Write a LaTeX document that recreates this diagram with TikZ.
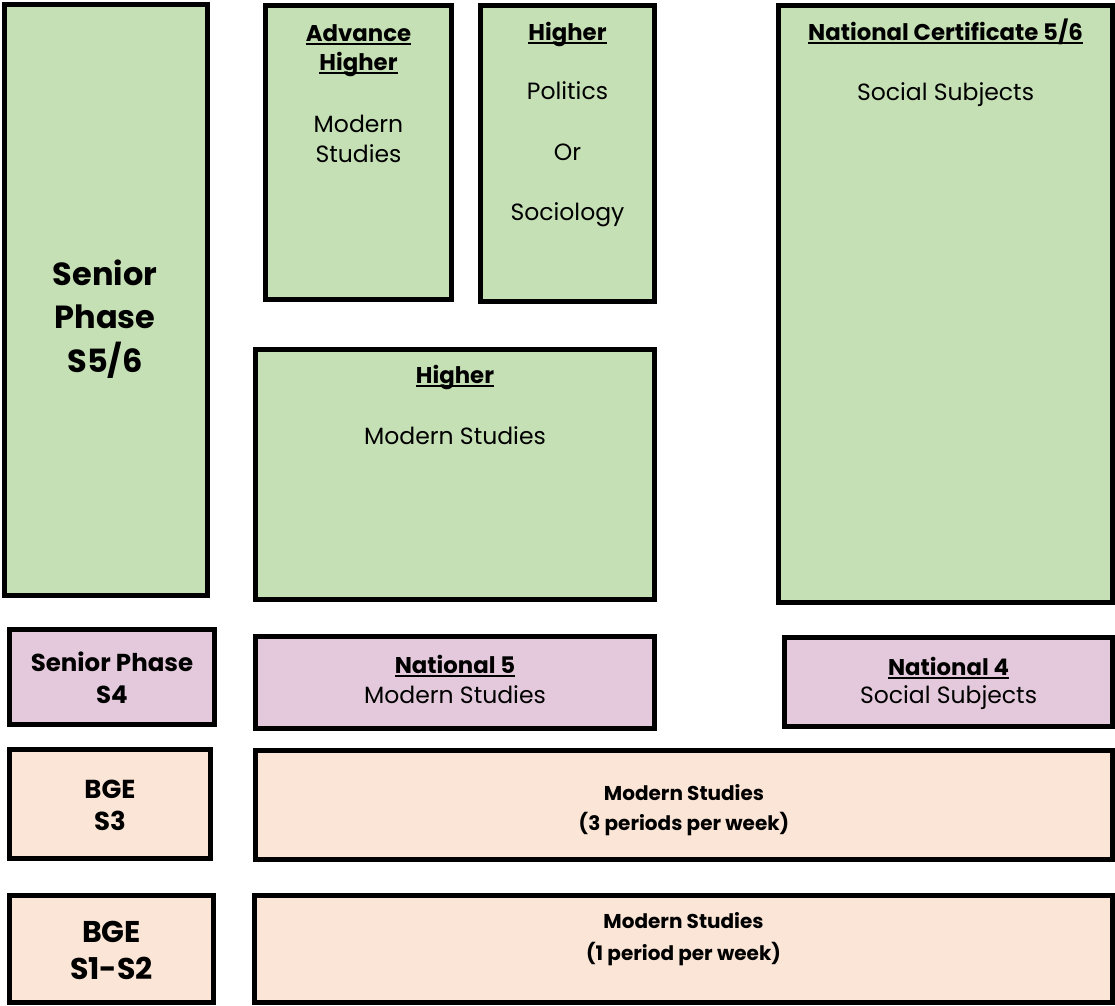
\documentclass[tikz,border=0pt]{standalone}
\usepackage{fontspec}
\setmainfont{Poppins}
\definecolor{grn}{HTML}{C5E0B4}
\definecolor{pnk}{HTML}{E3C9DB}
\definecolor{pch}{HTML}{FBE5D6}
\newcommand\myul[1]{\setbox0\hbox{#1}\rlap{\rule[-4pt]{\wd0}{1.8pt}}\box0}
\tikzset{
  box/.style={draw=black, line width=5pt, rectangle, inner sep=0pt, outer sep=0pt},
  reg/.style={anchor=base, inner sep=0pt, font=\fontsize{23.5}{27}\selectfont},
  ttl/.style={anchor=base, inner sep=0pt, font=\bfseries\fontsize{22.8}{26}\selectfont},
  bld/.style={anchor=base, inner sep=0pt, font=\bfseries\fontsize{20}{24}\selectfont},
  mid/.style={anchor=base, inner sep=0pt, font=\bfseries\fontsize{24.5}{28}\selectfont},
  midb/.style={anchor=base, inner sep=0pt, font=\bfseries\fontsize{26}{29}\selectfont},
  big/.style={anchor=base, inner sep=0pt, font=\bfseries\fontsize{32}{36}\selectfont},
  bigb/.style={anchor=base, inner sep=0pt, font=\bfseries\fontsize{30}{34}\selectfont},
}
\begin{document}
\begin{tikzpicture}[x=1pt,y=-1pt]
\useasboundingbox (0,0) rectangle (1115,1005);
% boxes
\node[box, fill=grn, minimum width=203pt, minimum height=591pt] (s56) at (106,300) {};
\node[box, fill=grn, minimum width=186pt, minimum height=294pt] (ah) at (358.5,152.5) {};
\node[box, fill=grn, minimum width=174pt, minimum height=296pt] (hp) at (567.5,153.5) {};
\node[box, fill=grn, minimum width=334pt, minimum height=597pt] (nc) at (945.5,304) {};
\node[box, fill=grn, minimum width=399pt, minimum height=250pt] (hm) at (455,474.5) {};
\node[box, fill=pnk, minimum width=205pt, minimum height=95pt] (s4) at (112,677) {};
\node[box, fill=pnk, minimum width=399pt, minimum height=92pt] (n5) at (455,682.5) {};
\node[box, fill=pnk, minimum width=328pt, minimum height=89pt] (n4) at (948.5,682) {};
\node[box, fill=pch, minimum width=201pt, minimum height=109pt] (bge3) at (110,804) {};
\node[box, fill=pch, minimum width=857pt, minimum height=109pt] (ms3) at (684,805) {};
\node[box, fill=pch, minimum width=204pt, minimum height=107pt] (bge12) at (111.5,949) {};
\node[box, fill=pch, minimum width=858pt, minimum height=107pt] (ms1) at (683.5,949) {};
% texts
\node[big] (s56a) at (105,285) {Senior};
\node[big] (s56b) at (105,328) {Phase};
\node[big] (s56c) at (105,372) {S5/6};
\node[ttl] (aha) at (358.5,41) {\myul{Advance}};
\node[ttl] (ahb) at (358.5,70) {\myul{Higher}};
\node[reg] (ahc) at (358.5,132) {Modern};
\node[reg] (ahd) at (358.5,162) {Studies};
\node[ttl] (hpa) at (567.5,40) {\myul{Higher}};
\node[reg] (hpb) at (567.5,99) {Politics};
\node[reg] (hpc) at (567.5,160) {Or};
\node[reg] (hpd) at (567.5,220) {Sociology};
\node[ttl] (nca) at (945.5,40) {\myul{National Certificate 5/6}};
\node[reg] (ncb) at (945.5,100) {Social Subjects};
\node[ttl] (hma) at (455,383) {\myul{Higher}};
\node[reg] (hmb) at (455,444) {Modern Studies};
\node[mid] (s4a) at (112,671) {Senior Phase};
\node[mid] (s4b) at (112,703) {S4};
\node[ttl] (n5a) at (455,673) {\myul{National 5}};
\node[reg] (n5b) at (455,703) {Modern Studies};
\node[ttl] (n4a) at (948.5,675) {\myul{National 4}};
\node[reg] (n4b) at (948.5,703) {Social Subjects};
\node[midb] (bge3a) at (110,798) {BGE};
\node[midb] (bge3b) at (110,830) {S3};
\node[bld] (ms3a) at (684,800) {Modern Studies};
\node[bld] (ms3b) at (684,830) {(3 periods per week)};
\node[bigb] (bge12a) at (111.5,942) {BGE};
\node[bigb] (bge12b) at (111.5,979) {S1-S2};
\node[bld] (ms1a) at (683.5,928) {Modern Studies};
\node[bld] (ms1b) at (683.5,960) {(1 period per week)};
\end{tikzpicture}
\end{document}
